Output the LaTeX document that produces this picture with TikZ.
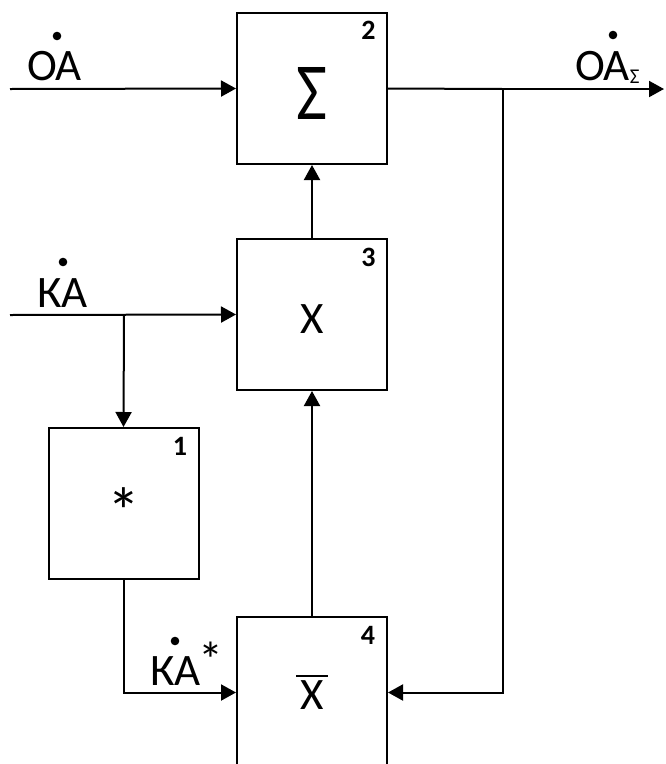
\documentclass[tikz,border=0pt]{standalone}
\usepackage{fontspec}
\setmainfont{Carlito}
\usetikzlibrary{arrows.meta,calc}
\tikzset{
  blk/.style={draw, line width=2pt, minimum width=150pt, minimum height=151pt, inner sep=0pt},
  wire/.style={line width=2pt},
  flow/.style={wire, -{Triangle[length=15pt,width=16pt]}},
  sig/.style={font=\fontsize{45}{45}\selectfont, inner sep=0pt, anchor=base west},
  num/.style={font=\bfseries\fontsize{28}{28}\selectfont, inner sep=0pt},
  sym/.style={font=\fontsize{45}{45}\selectfont, inner sep=0pt},
  dotmark/.style={fill=black}
}
\begin{document}
\begin{tikzpicture}[x=1pt,y=-1pt]
\useasboundingbox (0,0) rectangle (665,764);

% blocks
\node[blk] (b2) at (312,88.5) {};
\node[blk] (b3) at (312,314.5) {};
\node[blk] (b1) at (123.5,503.5) {};
\node[blk] (b4) at (312,692.5) {};

% block numbers
\node[num] (n2) at (368.5,30) {2};
\node[num] (n3) at (368.5,257) {3};
\node[num] (n1) at (180,446) {1};
\node[num] (n4) at (368,635) {4};

% block operations
\node[inner sep=0pt] (s2) at (312,93) {\resizebox{31pt}{52pt}{Σ}};
\node[sym] (s3) at (312,319) {X};
\node[inner sep=0pt, font=\fontsize{66}{66}\selectfont] (s1) at (124,511) {*};
\node[sym] (s4) at (312,695) {X};
\draw[line width=2.2pt] (296,676) -- (328,676);

% signal labels
\node[sig] (lOA) at (27,80) {ОА};
\fill[dotmark] (57,36) circle (4.3pt);
\node[sig] (lKA) at (37,307) {КА};
\fill[dotmark] (63,262) circle (4.3pt);
\node[sig] (lOS) at (575,80) {ОА\raisebox{-3pt}{\fontsize{21}{21}\selectfont Σ}};
\fill[dotmark] (613,35) circle (4.3pt);
\node[sig] (lKS) at (150,685) {КА\kern-2pt\raisebox{8pt}{\fontsize{50}{50}\selectfont *}};
\fill[dotmark] (175,641) circle (4.3pt);

% connection points
\coordinate (inOA) at (10,89);
\coordinate (inKA) at (10,315);
\coordinate (out) at (664,89);
\coordinate (tap) at (503,89);
\coordinate (tapK) at (124,315);

% connectors
\draw[flow] (inOA) -- (b2.west);
\draw[flow] (inKA) -- (b3.west);
\draw[wire] (b2.east) -- (tap);
\draw[flow] (tap) -- (out);
\draw[flow] (tap) |- (b4.east);
\draw[flow] (tapK) -- (b1.north);
\draw[flow] (b1.south) |- (b4.west);
\draw[flow] (b4.north) -- (b3.south);
\draw[flow] (b3.north) -- (b2.south);
\end{tikzpicture}
\end{document}
